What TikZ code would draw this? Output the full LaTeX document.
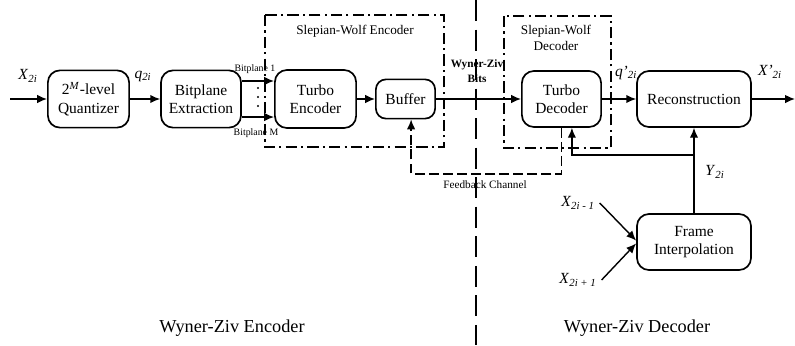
\documentclass[tikz,border=0pt]{standalone}
\usepackage{fontspec}
\setmainfont{Liberation Serif}
\usetikzlibrary{arrows.meta}

\begin{document}
\begin{tikzpicture}[x=0.025cm, y=-0.025cm,
  every node/.style={font=\fontsize{11}{13}\selectfont},
  blk/.style={draw, line width=1.2pt, rounded corners=0.3cm, align=center, inner sep=0pt},
  arr/.style={line width=1pt, -{Latex[length=7pt,width=6pt]}},
  swbox/.style={line width=1pt, dash pattern=on 8pt off 3pt on 1.5pt off 3pt},
  swlbl/.style={font=\fontsize{9.4}{11.3}\selectfont, align=center},
  bplbl/.style={font=\fontsize{7}{8}\selectfont, inner sep=1pt},
  fbline/.style={line width=1pt, dash pattern=on 7pt off 3pt}]
	\useasboundingbox (0,0) rectangle (795,345);

	% Slepian-Wolf boxes and divider
	\draw[swbox] (265,15) rectangle (444,147);
	\node[swlbl] (swenc) at (355,31) {Slepian-Wolf Encoder};
	\draw[swbox] (504,16) rectangle (611,148);
	\node[swlbl] (swdec) at (556,38) {Slepian-Wolf\\Decoder};
	\draw[line width=1pt, dash pattern=on 15pt off 6pt] (476,0) -- (476,345);

	% blocks
	\node[blk, minimum width=2.03cm, minimum height=1.43cm] (quant) at (88.5,99) {2\textsuperscript{\textit{M}}-level\\Quantizer};
	\node[blk, minimum width=2.0cm, minimum height=1.43cm] (bitext) at (201,99) {Bitplane\\Extraction};
	\node[blk, minimum width=2.03cm, minimum height=1.45cm] (tenc) at (315.5,99) {Turbo\\Encoder};
	\node[blk, minimum width=1.48cm, minimum height=0.98cm, rounded corners=0.25cm] (buf) at (405.5,99) {Buffer};
	\node[blk, minimum width=1.98cm, minimum height=1.4cm] (tdec) at (561.5,99) {Turbo\\Decoder};
	\node[blk, minimum width=2.85cm, minimum height=1.4cm] (recon) at (694,99) {Reconstruction};
	\node[blk, minimum width=2.85cm, minimum height=1.4cm] (interp) at (694,242) {Frame\\Interpolation};

	% encoder side
	\coordinate (in) at (10,99);
	\draw[arr] (in) -- (quant);
	\node (xin) at (28,76) {\textit{X}\textsubscript{\textit{2i}}};
	\draw[arr] (quant) -- (bitext);
	\node (q) at (143,76) {\textit{q}\textsubscript{\textit{2i}}};
	\draw[arr] ([yshift=0.45cm]bitext.east) -- ([yshift=0.45cm]tenc.west);
	\draw[arr] ([yshift=-0.45cm]bitext.east) -- ([yshift=-0.45cm]tenc.west);
	\node[bplbl] (bp1) at (255,69) {Bitplane 1};
	\node[bplbl] (bpm) at (256,133) {Bitplane M};
	\foreach \y in {88,97,106}
		\fill (258,\y) circle (0.8pt);
	\draw[arr] (tenc) -- (buf);
	\draw[arr] (buf) -- (tdec);
	\node[font=\fontsize{8}{10.5}\selectfont\bfseries, align=center] (wzbits) at (477,71) {Wyner-Ziv\\Bits};

	% feedback channel
	\draw[fbline, -{Latex[length=7pt,width=6pt]}] (tdec.south) -- ++(0,46) -| ([xshift=0.14cm]buf.south);
	\node[font=\fontsize{8}{9}\selectfont] (fbc) at (485,185) {Feedback Channel};

	% decoder side
	\draw[arr] (tdec) -- (recon);
	\node (qp) at (626,73) {\textit{q'}\textsubscript{\textit{2i}}};
	\coordinate (out) at (795,99);
	\draw[arr] (recon) -- (out);
	\node (xout) at (770,72) {\textit{X'}\textsubscript{\textit{2i}}};
	\draw[arr] (interp.north) -- (recon.south);
	\coordinate (br) at (694,155);
	\draw[arr] (br) -| ([xshift=0.26cm]tdec.south);
	\node (y2i) at (715,172) {\textit{Y}\textsubscript{\textit{2i}}};
	\node (xm) at (578,203) {\textit{X}\textsubscript{\textit{2i - 1}}};
	\draw[arr] (xm.east) -- ([yshift=1pt]interp.west);
	\node (xp) at (578,280) {\textit{X}\textsubscript{\textit{2i + 1}}};
	\draw[arr] (xp.east) -- ([yshift=-1pt]interp.west);

	% bottom labels
	\node[font=\fontsize{13}{15}\selectfont] (wzenc) at (232,328) {Wyner-Ziv Encoder};
	\node[font=\fontsize{13}{15}\selectfont] (wzdec) at (637,328) {Wyner-Ziv Decoder};
\end{tikzpicture}
\end{document}
